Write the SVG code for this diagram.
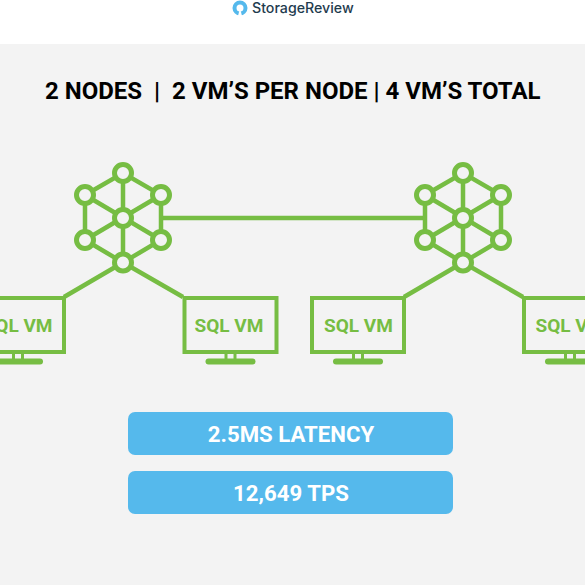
<svg xmlns="http://www.w3.org/2000/svg" width="585" height="585" viewBox="0 0 585 585">
<defs>
<style>
.ln{fill:none;stroke:#76bd43;stroke-width:4.500}
.c{fill:#f3f3f3;stroke:#76bd43;stroke-width:5}
.scr{fill:none;stroke:#76bd43;stroke-width:4}
.g{fill:#76bd43}
.vm{font:700 19px Roboto,"Liberation Sans",sans-serif;fill:#76bd43;text-anchor:middle}
.t{font:700 24px Roboto,"Liberation Sans",sans-serif;fill:#000;text-anchor:middle;white-space:pre}
.b{fill:#55b9ec}
.bt{font:700 22.200px Roboto,"Liberation Sans",sans-serif;fill:#fff;text-anchor:middle}
</style>
<g id="hex">
<path class="ln" d="M0-45L0 44.500M-38-23L38 22M-38 22L38-23M-38-23L0-45L38-23L38 22L0 44.500L-38 22Z"/>
<circle class="c" cx="0" cy="-45" r="8.500"/><circle class="c" cx="38" cy="-23" r="8.500"/><circle class="c" cx="38" cy="22" r="8.500"/><circle class="c" cx="0" cy="44.500" r="8.500"/><circle class="c" cx="-38" cy="22" r="8.500"/><circle class="c" cx="-38" cy="-23" r="8.500"/><circle class="c" cx="0" cy="0" r="8.500"/>
</g>
<g id="mon">
<rect class="scr" x="-46" y="-27" width="92" height="54"/>
<rect class="g" x="-6" y="29" width="3" height="5"/><rect class="g" x="3" y="29" width="3" height="5"/>
<rect class="g" x="-25" y="33.500" width="50" height="6" rx="3"/>
</g>
</defs>
<rect width="585" height="585" fill="#fff"/>
<rect y="44" width="585" height="541" fill="#f3f3f3"/>
<g id="logo">
<circle cx="240" cy="8" r="5.500" fill="none" stroke="#55b9ec" stroke-width="4"/>
<path d="M240 8L238 16H242Z" fill="#fff"/>
<text x="252" y="13" font-family="Inter,'Open Sans',sans-serif" font-size="14.200" font-weight="500" fill="#1f3c4f">StorageReview</text>
</g>
<text id="title" class="t" x="292.800" y="99" xml:space="preserve">2 NODES  |  2 VM’S PER NODE | 4 VM’S TOTAL</text>
<g id="connectors">
<path class="ln" d="M161 218H425M123 262.500L64 297M123 262.500L183 297M463 262.500L404 297M463 262.500L523 297"/>
</g>
<use id="node-a" href="#hex" x="123" y="218"/>
<use id="node-b" href="#hex" x="463" y="218"/>
<g id="vm1"><use href="#mon" x="18" y="325"/><text class="vm" x="18" y="331.500">SQL VM</text></g>
<g id="vm2"><use href="#mon" x="230.500" y="325"/><text class="vm" x="229" y="331.500">SQL VM</text></g>
<g id="vm3"><use href="#mon" x="358" y="325"/><text class="vm" x="358.500" y="331.500">SQL VM</text></g>
<g id="vm4"><use href="#mon" x="570" y="325"/><text class="vm" x="570" y="331.500">SQL VM</text></g>
<g id="latency"><rect class="b" x="128" y="412" width="325" height="43" rx="7"/><text class="bt" x="291" y="441.500">2.5MS LATENCY</text></g>
<g id="tps"><rect class="b" x="128" y="471" width="325" height="43" rx="7"/><text class="bt" x="291" y="501">12,649 TPS</text></g>
</svg>
